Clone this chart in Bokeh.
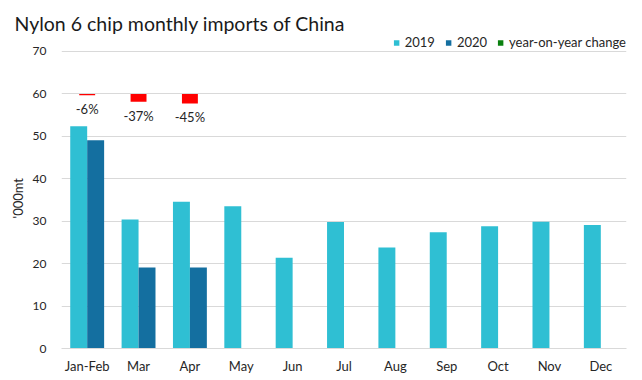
from bokeh.plotting import figure
from bokeh.models import (ColumnDataSource, FactorRange, Range1d, FixedTicker, Legend,
                          LegendItem, LabelSet, Title)
from bokeh.core.properties import value
from bokeh.transform import dodge
from bokeh.embed import file_html
from bokeh.resources import INLINE

# ---- data ----
categories = ["Jan-Feb", "Mar", "Apr", "May", "Jun", "Jul", "Aug", "Sep", "Oct", "Nov", "Dec"]
imports_2019 = [52.4, 30.4, 34.6, 33.5, 21.4, 29.8, 23.8, 27.4, 28.8, 29.9, 29.1]
categories_2020 = ["Jan-Feb", "Mar", "Apr"]
imports_2020 = [49.1, 19.1, 19.1]
yoy_change = [-6, -37, -45]  # percent
yoy_labels = ["-6%", "-37%", "-45%"]
y_ticks = [0, 10, 20, 30, 40, 50, 60, 70]

C2019 = "#2FBFD3"
C2020 = "#146FA0"
CGREEN = "#0A800F"
CRED = "#FF0000"
FONT = "Lato"
TXT = "#262626"

p = figure(width=642, height=380, x_range=FactorRange(*categories, range_padding=0),
           y_range=Range1d(0, 74), output_backend="svg", toolbar_location=None,
           min_border_left=61, min_border_right=16, min_border_bottom=32, min_border_top=34)
p.extra_y_ranges = {"yoy": Range1d(-1200, 280)}

src19 = ColumnDataSource(dict(cat=categories, val=imports_2019))
src20 = ColumnDataSource(dict(cat=categories_2020, val=imports_2020))
srcy = ColumnDataSource(dict(cat=categories_2020, val=yoy_change, lab=yoy_labels,
                             pos=[max(v, 0) for v in yoy_change],
                             neg=[min(v, 0) for v in yoy_change]))

r19 = p.vbar(x=dodge("cat", -0.165, range=p.x_range), top="val", width=0.33, source=src19,
             fill_color=C2019, line_color=None)
r20 = p.vbar(x=dodge("cat", 0.165, range=p.x_range), top="val", width=0.33, source=src20,
             fill_color=C2020, line_color=None)

# year-on-year change: green when positive, red (inverted) when negative
rpos = p.vbar(x="cat", top="pos", bottom=0, width=0.31, source=srcy, y_range_name="yoy",
              fill_color=CGREEN, line_color=None)
rneg = p.vbar(x="cat", top=0, bottom="neg", width=0.31, source=srcy, y_range_name="yoy",
              fill_color=CRED, line_color=None)

labels = LabelSet(x="cat", y="val", text="lab", source=srcy, y_range_name="yoy",
                  text_align="center", text_baseline="top", y_offset=-6,
                  text_font=value(FONT), text_font_size=value("13px"), text_color=TXT)
p.add_layout(labels)

# axes
p.yaxis.ticker = FixedTicker(ticks=y_ticks)
p.yaxis.axis_line_color = None
p.yaxis.major_tick_line_color = None
p.yaxis.minor_tick_line_color = None
p.yaxis.major_tick_out = 0
p.yaxis.major_label_standoff = 15
p.yaxis.major_label_text_font_size = "12px"

p.xaxis.axis_line_color = "#D9D9D9"
p.xaxis.major_tick_line_color = None
p.xaxis.minor_tick_line_color = None
p.xaxis.major_tick_out = 0
p.xaxis.major_label_standoff = 9
p.xaxis.major_label_text_font_size = "13px"
for ax in (p.xaxis, p.yaxis):
    ax.major_label_text_font = FONT
    ax.major_label_text_color = TXT

p.add_layout(Title(text="'000mt", align="left", offset=130, text_font=FONT,
                   text_font_size="13px", text_font_style="normal", text_color=TXT,
                   standoff=8), "left")

p.xgrid.grid_line_color = None
p.ygrid.grid_line_color = "#D9D9D9"
p.ygrid.ticker = FixedTicker(ticks=y_ticks)
p.outline_line_color = None

# title
p.title.text = "Nylon 6 chip monthly imports of China"
p.title.text_font = FONT
p.title.text_font_size = "19.5px"
p.title.text_font_style = "normal"
p.title.text_color = "#1A1A1A"
p.title.offset = -47
p.title.standoff = 0

legend = Legend(items=[LegendItem(label="2019", renderers=[r19]),
                       LegendItem(label="2020", renderers=[r20]),
                       LegendItem(label="year-on-year change", renderers=[rpos])],
                orientation="horizontal", location="top_right",
                glyph_width=7, glyph_height=7, label_standoff=5, spacing=10,
                padding=0, margin=0, border_line_color=None, background_fill_alpha=0,
                label_text_font=FONT, label_text_font_size="13px", label_text_color=TXT,
                label_height=12)
p.add_layout(legend)

open("out.html", "w").write(file_html(p, INLINE))
